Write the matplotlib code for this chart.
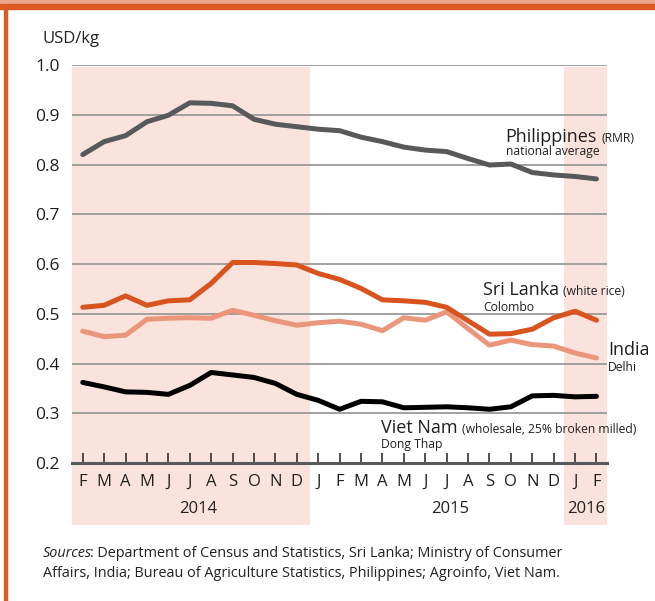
import matplotlib
matplotlib.use("Agg")
import matplotlib.pyplot as plt
from matplotlib.patches import Rectangle

plt.rcParams['font.family'] = ['Open Sans', 'DejaVu Sans']

months = ['F', 'M', 'A', 'M', 'J', 'J', 'A', 'S', 'O', 'N', 'D',
          'J', 'F', 'M', 'A', 'M', 'J', 'J', 'A', 'S', 'O', 'N', 'D',
          'J', 'F']
years = ['2014', '2015', '2016']

philippines = [0.820, 0.846, 0.858, 0.886, 0.899, 0.924, 0.923, 0.918, 0.891, 0.881, 0.876,
               0.871, 0.868, 0.855, 0.846, 0.835, 0.829, 0.826, 0.812, 0.799, 0.801, 0.784, 0.779,
               0.776, 0.771]
sri_lanka = [0.513, 0.517, 0.536, 0.517, 0.526, 0.528, 0.561, 0.603, 0.603, 0.601, 0.598,
             0.581, 0.569, 0.551, 0.528, 0.526, 0.523, 0.513, 0.486, 0.459, 0.460, 0.469, 0.492,
             0.505, 0.487]
india = [0.465, 0.454, 0.457, 0.489, 0.491, 0.492, 0.491, 0.507, 0.497, 0.486, 0.477,
         0.482, 0.485, 0.479, 0.466, 0.492, 0.487, 0.504, 0.470, 0.437, 0.447, 0.438, 0.435,
         0.421, 0.411]
viet_nam = [0.362, 0.353, 0.343, 0.342, 0.338, 0.356, 0.382, 0.377, 0.372, 0.360, 0.338,
            0.326, 0.308, 0.324, 0.323, 0.311, 0.312, 0.313, 0.311, 0.308, 0.313, 0.335, 0.336,
            0.333, 0.334]

x = list(range(len(months)))
ink = '#231f20'

fig = plt.figure(figsize=(6.55, 6.01), dpi=100)
ax = fig.add_axes([0.110, 0.2296, 0.817, 0.6622])

# frame decoration
fig.patches.append(Rectangle((0, 1 - 4 / 601), 1, 4 / 601, transform=fig.transFigure,
                             color='#eca58a', zorder=0))
fig.patches.append(Rectangle((0, 1 - 9 / 601), 1, 5 / 601, transform=fig.transFigure,
                             color='#dc5a22', zorder=0))
fig.patches.append(Rectangle((4 / 655, 0), 2.5 / 655, 1 - 9 / 601, transform=fig.transFigure,
                             color='#dc5a22', zorder=0))

shade = '#f9e3dc'
ax.axvspan(-0.5, 10.6, ymin=-0.156, ymax=0.995, color=shade, lw=0, clip_on=False, zorder=0)
ax.axvspan(22.5, 24.5, ymin=-0.156, ymax=0.995, color=shade, lw=0, clip_on=False, zorder=0)

for v in [0.3, 0.4, 0.5, 0.6, 0.7, 0.8, 0.9, 1.0]:
    ax.axhline(v, color='#9a9a9a', lw=1.3, zorder=1)

lw = 3.6
ax.plot(x, philippines, color='#58595b', lw=lw, solid_capstyle='round', zorder=3)
ax.plot(x, india, color='#eb967a', lw=lw, solid_capstyle='round', zorder=3)
ax.plot(x, sri_lanka, color='#d9531e', lw=lw, solid_capstyle='round', zorder=4)
ax.plot(x, viet_nam, color='#000000', lw=lw, solid_capstyle='round', zorder=3)

ax.set_xlim(-0.5, 24.5)
ax.set_ylim(0.2, 1.0)
for s in ['top', 'right', 'left']:
    ax.spines[s].set_visible(False)
ax.spines['bottom'].set_color('#58595b')
ax.spines['bottom'].set_linewidth(2.2)
ax.spines['bottom'].set_zorder(5)

ax.set_xticks(x)
ax.set_xticklabels(months, fontsize=12, color=ink)
ax.tick_params(axis='x', direction='in', length=7, width=1.1, color=ink, pad=8)
ax.set_yticks([0.2, 0.3, 0.4, 0.5, 0.6, 0.7, 0.8, 0.9, 1.0])
ax.set_yticklabels(['0.2', '0.3', '0.4', '0.5', '0.6', '0.7', '0.8', '0.9', '1.0'],
                   fontsize=12.5, color=ink)
ax.tick_params(axis='y', length=0, pad=9)

ax.text(-0.056, 1.045, 'USD/kg', transform=ax.transAxes, fontsize=12, color=ink,
        ha='left', va='bottom')

# year labels
xt = ax.get_xaxis_transform()
ax.text(5.4, -0.096, years[0], transform=xt, ha='center', va='top', fontsize=12, color=ink)
ax.text(17.15, -0.096, years[1], transform=xt, ha='center', va='top', fontsize=12, color=ink)
ax.text(23.5, -0.096, years[2], transform=xt, ha='center', va='top', fontsize=12, color=ink)

fig.canvas.draw()
renderer = fig.canvas.get_renderer()


def label(xd, yd, big, small, sub, ysub):
    t = ax.text(xd, yd, big, fontsize=13, color=ink, ha='left', va='baseline', zorder=6)
    if small:
        bb = t.get_window_extent(renderer)
        xr, _ = ax.transData.inverted().transform((bb.x1 + 4, bb.y0))
        ax.text(xr, yd, small, fontsize=8.7, color=ink, ha='left', va='baseline', zorder=6)
    ax.text(xd, ysub, sub, fontsize=8.7, color=ink, ha='left', va='baseline', zorder=6)


label(19.76, 0.845, 'Philippines', '(RMR)', 'national average', 0.819)
label(18.69, 0.537, 'Sri Lanka', '(white rice)', 'Colombo', 0.506)
label(24.55, 0.417, 'India', None, 'Delhi', 0.385)
label(13.93, 0.261, 'Viet Nam', '(wholesale, 25% broken milled)', 'Dong Thap', 0.230)

# sources note
src_size = 10.4
y1 = 1 - 557 / 601
y2 = 1 - 577 / 601
s = fig.text(43 / 655, y1, 'Sources', fontsize=src_size, color=ink, style='italic')
bb = s.get_window_extent(renderer)
fig.text((bb.x1 - 2) / fig.bbox.width, y1,
         ': Department of Census and Statistics, Sri Lanka; Ministry of Consumer',
         fontsize=src_size, color=ink)
fig.text(43 / 655, y2,
         'Affairs, India; Bureau of Agriculture Statistics, Philippines; Agroinfo, Viet Nam.',
         fontsize=src_size, color=ink)

fig.savefig('out.png', dpi=100)
